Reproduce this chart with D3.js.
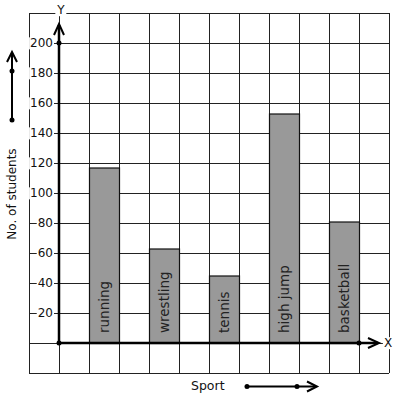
<!DOCTYPE html>
<html>
<head>
<meta charset="utf-8">
<script src="https://d3js.org/d3.v7.min.js"></script>
<style>
  body { margin: 0; background: #fff; }
  svg text { font-family: 'DejaVu Sans', sans-serif; }
</style>
</head>
<body>
<div class="chart"></div>
<script>
const sports = ['running', 'wrestling', 'tennis', 'high jump', 'basketball']
const students = [117, 63, 45, 153, 81]
const yTicks = [20, 40, 60, 80, 100, 120, 140, 160, 180, 200]
const gridCols = d3.range(-1, 12)
const gridRows = d3.range(-20, 221, 20)

const w = 397, h = 399

const svg = d3.select('.chart')
    .append('svg')
    .attr('width', w)
    .attr('height', h)

// one grid column = 30px, one row = 20 students
const x = d3.scaleLinear().domain([-1, 11]).range([29, 389])
const y = d3.scaleLinear().domain([-20, 220]).range([373, 13])
const band = d3.scaleBand()
    .domain(sports)
    .range([x(1), x(10)])
    .paddingInner(0.5)
    .paddingOuter(0)

// grid
svg.append('g').selectAll('line')
    .data(gridCols)
    .enter().append('line')
    .attr('x1', d => x(d) + 0.5).attr('x2', d => x(d) + 0.5)
    .attr('y1', y(220)).attr('y2', y(-20))
    .attr('stroke', '#222').attr('stroke-width', 1)
svg.append('g').selectAll('line')
    .data(gridRows)
    .enter().append('line')
    .attr('y1', d => y(d) + 0.5).attr('y2', d => y(d) + 0.5)
    .attr('x1', x(-1)).attr('x2', x(11))
    .attr('stroke', '#222').attr('stroke-width', 1)

// bars
svg.append('g').selectAll('rect')
    .data(sports)
    .enter().append('rect')
    .attr('x', d => band(d) + 0.5)
    .attr('y', (d, i) => y(students[i]) + 0.5)
    .attr('width', band.bandwidth())
    .attr('height', (d, i) => y(0) - y(students[i]))
    .attr('fill', '#999')
    .attr('stroke', '#111')
    .attr('stroke-width', 1.2)

svg.append('g').selectAll('text')
    .data(sports)
    .enter().append('text')
    .attr('transform', d => `translate(${band(d) + band.bandwidth() / 2},${y(0) - 10}) rotate(-90)`)
    .attr('dy', '0.35em')
    .attr('font-size', 13.5)
    .attr('fill', '#222')
    .text(d => d)

// helper: white box behind a text so grid lines don't cross it
function clearBehind(sel) {
    sel.each(function () {
        const b = this.getBBox()
        d3.select(this.parentNode).insert('rect', () => this)
            .attr('x', b.x - 1).attr('y', b.y + 1)
            .attr('width', b.width + 2).attr('height', b.height - 2)
            .attr('fill', '#fff')
    })
}

// y axis labels
const yAxis = svg.append('g')
    .attr('transform', `translate(${x(0)},0)`)
    .call(d3.axisLeft(y).tickValues(yTicks).tickSize(0).tickPadding(6))
yAxis.select('.domain').remove()
yAxis.selectAll('text')
    .attr('font-size', 12)
    .attr('fill', '#111')
    .style('font-family', "'DejaVu Sans', sans-serif")
clearBehind(yAxis.selectAll('text'))

// axes with arrows
const axes = svg.append('g').attr('stroke', '#000').attr('fill', 'none')
axes.append('line')
    .attr('x1', x(0)).attr('x2', x(0))
    .attr('y1', y(0)).attr('y2', 25)
    .attr('stroke-width', 2.5)
axes.append('path')
    .attr('d', `M${x(0) - 5},35 L${x(0)},24 L${x(0) + 5},35`)
    .attr('stroke-width', 2)
axes.append('line')
    .attr('x1', x(0)).attr('x2', 378)
    .attr('y1', y(0)).attr('y2', y(0))
    .attr('stroke-width', 2.5)
axes.append('path')
    .attr('d', `M368,${y(0) - 5} L379,${y(0)} L368,${y(0) + 5}`)
    .attr('stroke-width', 2)

const dots = [[x(0), y(0)], [x(0), y(200)], [x(10), y(0)],
    [12, 120], [12, 71], [247, 386.5], [297, 386.5]]
svg.append('g').selectAll('circle')
    .data(dots)
    .enter().append('circle')
    .attr('cx', d => d[0]).attr('cy', d => d[1])
    .attr('r', 2.5).attr('fill', '#000')

// axis name labels
const xName = svg.append('text')
    .attr('x', 388).attr('y', y(0)).attr('dy', '0.35em')
    .attr('text-anchor', 'middle').attr('font-size', 12).attr('fill', '#111')
    .text('X')
const yName = svg.append('text')
    .attr('x', 61).attr('y', 10).attr('dy', '0.35em')
    .attr('text-anchor', 'middle').attr('font-size', 12).attr('fill', '#111')
    .text('Y')
clearBehind(xName)
clearBehind(yName)

svg.append('text')
    .attr('transform', 'translate(16,194) rotate(-90)')
    .attr('text-anchor', 'middle').attr('font-size', 12).attr('fill', '#111')
    .text('No. of students')
axes.append('line')
    .attr('x1', 12).attr('x2', 12).attr('y1', 120).attr('y2', 53)
    .attr('stroke-width', 2)
axes.append('path')
    .attr('d', 'M7,62 L12,52 L17,62')
    .attr('stroke-width', 2)

svg.append('text')
    .attr('x', 191).attr('y', 390)
    .attr('font-size', 12.5).attr('fill', '#111')
    .text('Sport')
axes.append('line')
    .attr('x1', 247).attr('x2', 316).attr('y1', 386.5).attr('y2', 386.5)
    .attr('stroke-width', 2)
axes.append('path')
    .attr('d', 'M307,381.5 L317,386.5 L307,391.5')
    .attr('stroke-width', 2)
</script>
</body>
</html>
